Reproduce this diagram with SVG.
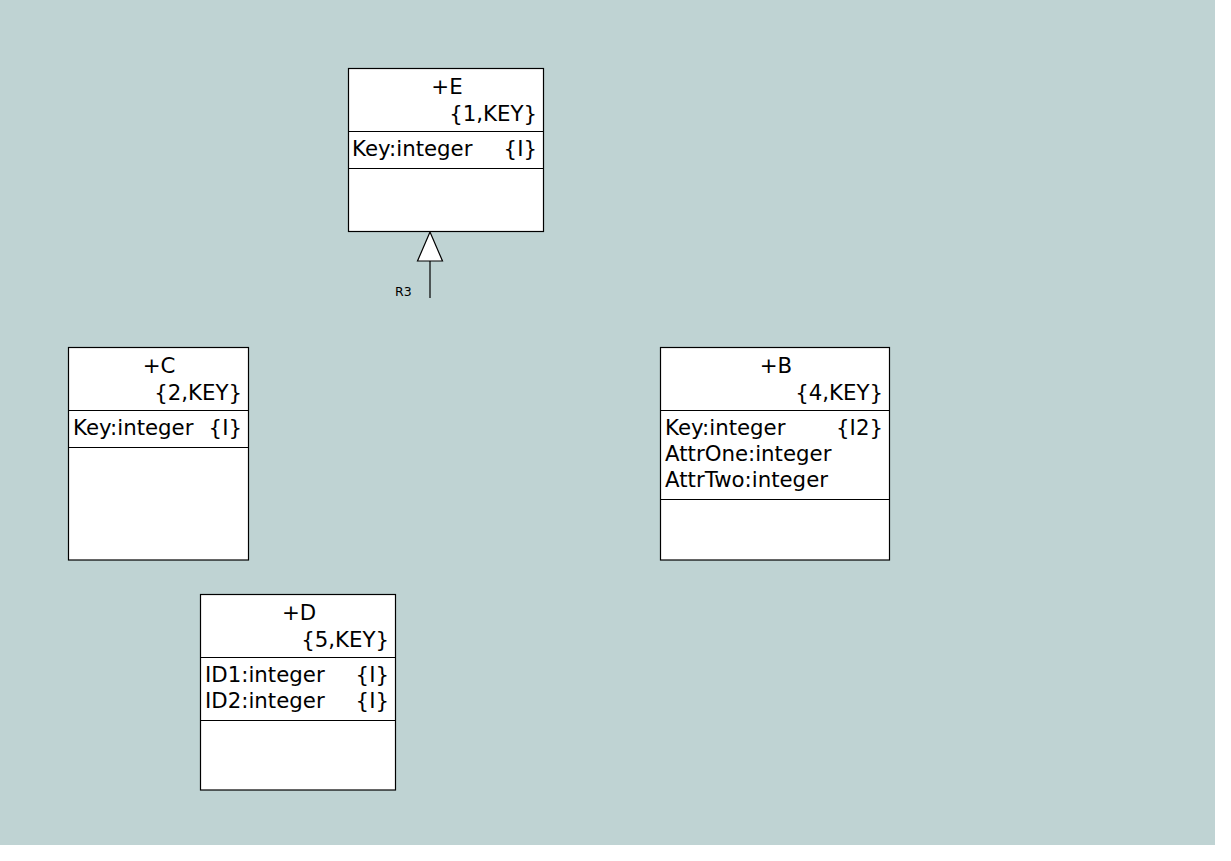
<svg xmlns="http://www.w3.org/2000/svg" width="1231" height="861" viewBox="0 0 1231 861">
<style>
.box{fill:#fff;stroke:#000;stroke-width:1.2}
.div{stroke:#000;stroke-width:1.2}
text{font-family:"DejaVu Sans","Liberation Sans",sans-serif;font-size:21.3px;fill:#000}
.t{text-anchor:middle}
.r{text-anchor:end}
.lbl{font-size:12.5px}
.conn{stroke:#000;stroke-width:1.2;fill:none}
.tri{fill:#fff;stroke:#000;stroke-width:1.2}
</style>
<rect x="0" y="0" width="1231" height="861" fill="#fff"/>
<rect x="0" y="0" width="1215" height="845" fill="#bfd3d3"/>
<g id="connectors">
<line class="conn" x1="430" y1="261" x2="430" y2="298"/>
<polygon class="tri" points="430,232 417.5,261 442.5,261"/>
<text class="lbl" x="395" y="296">R3</text>
</g>
<g id="E">
<rect class="box" x="348.5" y="68.5" width="195" height="163"/>
<line class="div" x1="348.5" y1="131.5" x2="543.5" y2="131.5"/>
<line class="div" x1="348.5" y1="168.5" x2="543.5" y2="168.5"/>
<text class="t" x="447" y="94">+E</text>
<text class="r" x="537" y="121">{1,KEY}</text>
<text x="352" y="156">Key:integer</text>
<text class="r" x="537" y="156">{I}</text>
</g>
<g id="C">
<rect class="box" x="68.5" y="347.5" width="180" height="212.5"/>
<line class="div" x1="68.5" y1="410.5" x2="248.5" y2="410.5"/>
<line class="div" x1="68.5" y1="447.5" x2="248.5" y2="447.5"/>
<text class="t" x="159" y="373">+C</text>
<text class="r" x="242" y="400">{2,KEY}</text>
<text x="73" y="435">Key:integer</text>
<text class="r" x="242" y="435">{I}</text>
</g>
<g id="B">
<rect class="box" x="660.5" y="347.5" width="229" height="212.5"/>
<line class="div" x1="660.5" y1="410.5" x2="889.5" y2="410.5"/>
<line class="div" x1="660.5" y1="499.5" x2="889.5" y2="499.5"/>
<text class="t" x="776" y="373">+B</text>
<text class="r" x="883" y="400">{4,KEY}</text>
<text x="665" y="435">Key:integer</text>
<text class="r" x="883" y="435">{I2}</text>
<text x="665" y="461">AttrOne:integer</text>
<text x="665" y="487">AttrTwo:integer</text>
</g>
<g id="D">
<rect class="box" x="200.5" y="594.5" width="195" height="195.5"/>
<line class="div" x1="200.5" y1="657.5" x2="395.5" y2="657.5"/>
<line class="div" x1="200.5" y1="720.5" x2="395.5" y2="720.5"/>
<text class="t" x="299" y="620">+D</text>
<text class="r" x="389" y="647">{5,KEY}</text>
<text x="205" y="682">ID1:integer</text>
<text class="r" x="389" y="682">{I}</text>
<text x="205" y="708">ID2:integer</text>
<text class="r" x="389" y="708">{I}</text>
</g>
</svg>
